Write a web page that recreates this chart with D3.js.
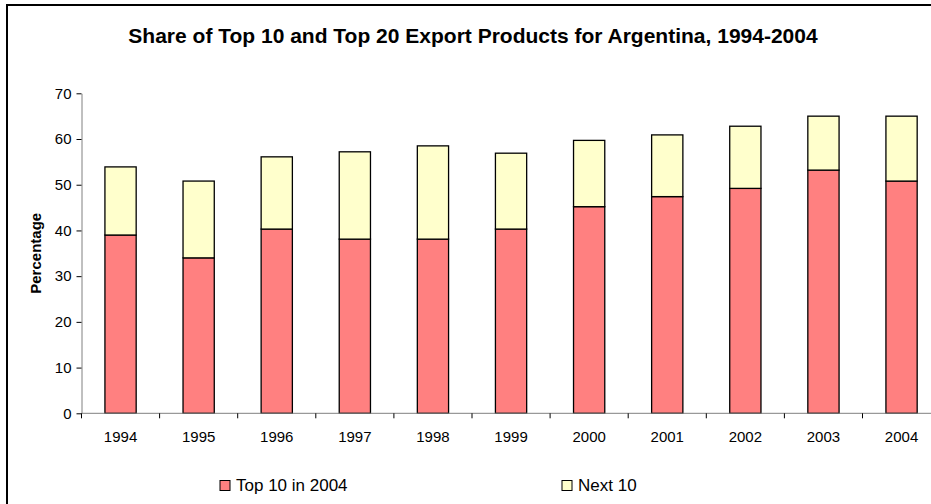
<!DOCTYPE html>
<html>
<head>
<meta charset="utf-8">
<script src="https://cdn.jsdelivr.net/npm/d3@7"></script>
<style>
  html, body { margin: 0; padding: 0; background: #fff; }
  svg { display: block; font-family: Arial, "Liberation Sans", sans-serif; }
</style>
</head>
<body>
<svg id="chart" width="931" height="504"></svg>
<script>
// Export concentration for Argentina, percent of total exports
const years = ["1994", "1995", "1996", "1997", "1998", "1999", "2000", "2001", "2002", "2003", "2004"];
const top10 = [39.0, 34.0, 40.3, 38.1, 38.1, 40.3, 45.2, 47.4, 49.2, 53.2, 50.8];
const next10 = [14.9, 16.8, 15.8, 19.1, 20.4, 16.6, 14.5, 13.5, 13.6, 11.8, 14.2];
const yTicks = [0, 10, 20, 30, 40, 50, 60, 70];
const seriesNames = ["Top 10 in 2004", "Next 10"];
const seriesColors = ["#FF8080", "#FFFFCC"];

const FONT = "Arial, 'Liberation Sans', sans-serif";
const svg = d3.select("#chart");

// outer chart frame (runs past the right and bottom edges)
svg.append("rect")
  .attr("x", 7).attr("y", 5)
  .attr("width", 1000).attr("height", 600)
  .attr("fill", "#fff")
  .attr("stroke", "#000").attr("stroke-width", 2);

const plotLeft = 81.5, plotTop = 93.3, plotBottom = 413.3;
const band = 78.1;

const x = d3.scaleBand()
  .domain(years)
  .range([plotLeft, plotLeft + band * years.length])
  .paddingInner(0.6).paddingOuter(0.3);

const y = d3.scaleLinear().domain([0, 70]).range([plotBottom, plotTop]);

const rows = years.map((yr, i) => ({ year: yr, top10: top10[i], next10: next10[i] }));
const stacked = d3.stack().keys(["top10", "next10"])(rows);

// bars
stacked.forEach((layer, k) => {
  svg.append("g").selectAll("rect")
    .data(layer)
    .join("rect")
    .attr("x", d => x(d.data.year))
    .attr("width", x.bandwidth())
    .attr("y", d => y(d[1]))
    .attr("height", d => y(d[0]) - y(d[1]))
    .attr("fill", seriesColors[k])
    .attr("stroke", "#000")
    .attr("stroke-width", 1.3);
});

// y axis
const yAxis = svg.append("g")
  .attr("transform", `translate(${plotLeft},0)`)
  .call(d3.axisLeft(y).tickValues(yTicks).tickSize(5).tickPadding(5).tickSizeOuter(0));
yAxis.attr("font-size", 15).attr("font-family", FONT);
yAxis.select(".domain").attr("stroke", "#808080").attr("stroke-width", 1);
yAxis.selectAll(".tick line").attr("stroke", "#000");
yAxis.selectAll(".tick text").attr("fill", "#000");

// x axis: ticks sit on category boundaries
const xAxisG = svg.append("g").attr("transform", `translate(0,${plotBottom})`);
xAxisG.append("line")
  .attr("x1", plotLeft).attr("x2", plotLeft + band * years.length)
  .attr("y1", 0).attr("y2", 0)
  .attr("stroke", "#808080");
const boundaries = d3.range(years.length + 1).map(i => plotLeft + band * i);
xAxisG.selectAll("line.tk")
  .data(boundaries)
  .join("line")
  .attr("class", "tk")
  .attr("x1", d => d).attr("x2", d => d)
  .attr("y1", 0).attr("y2", 5)
  .attr("stroke", "#000");
xAxisG.selectAll("text")
  .data(years)
  .join("text")
  .attr("x", d => x(d) + x.bandwidth() / 2)
  .attr("y", 29)
  .attr("text-anchor", "middle")
  .attr("font-size", 15)
  .text(d => d);

// title
svg.append("text")
  .attr("x", 473).attr("y", 43)
  .attr("text-anchor", "middle")
  .attr("font-size", 21).attr("font-weight", "bold")
  .text("Share of Top 10 and Top 20 Export Products for Argentina, 1994-2004");

// y axis title
svg.append("text")
  .attr("transform", `translate(41,${(plotTop + plotBottom) / 2}) rotate(-90)`)
  .attr("text-anchor", "middle")
  .attr("font-size", 15).attr("font-weight", "bold")
  .text("Percentage");

// legend
const legendX = [220, 562];
const legend = svg.append("g").selectAll("g")
  .data(seriesNames)
  .join("g")
  .attr("transform", (d, i) => `translate(${legendX[i]},480.5)`);
legend.append("rect")
  .attr("width", 10).attr("height", 10)
  .attr("fill", (d, i) => seriesColors[i])
  .attr("stroke", "#000").attr("stroke-width", 1);
legend.append("text")
  .attr("x", 16).attr("y", 10)
  .attr("font-size", 17)
  .text(d => d);
</script>
</body>
</html>
